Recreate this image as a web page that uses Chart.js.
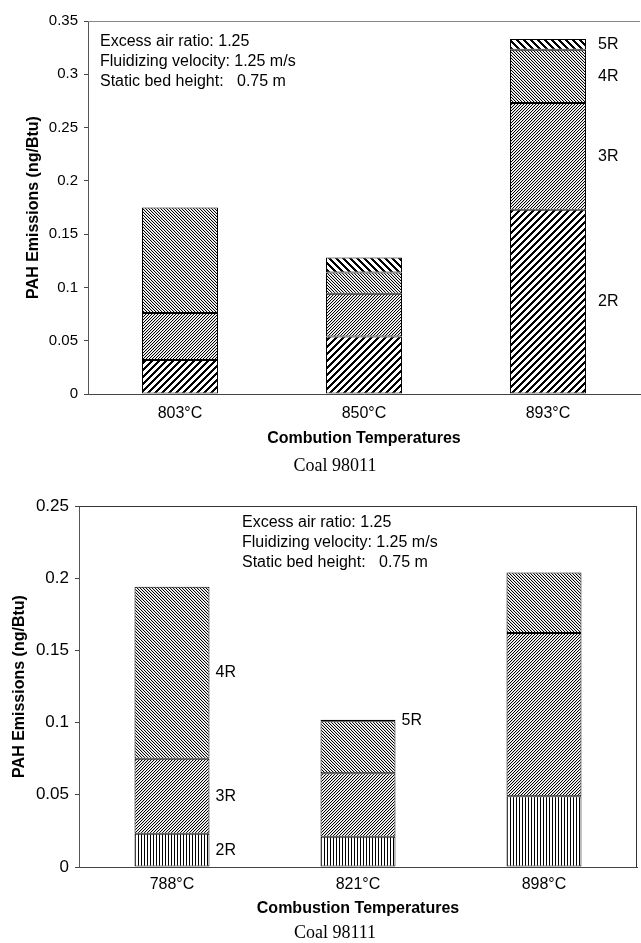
<!DOCTYPE html>
<html lang="en">
<head>
<meta charset="UTF-8" />
<title>PAH Emissions vs Combustion Temperature</title>
<style>
  body { margin: 0; background: #fff; }
  canvas { display: block; }
</style>
</head>
<body>
<canvas id="coal98011" width="641" height="475"></canvas>
<canvas id="coal98111" width="641" height="468"></canvas>

<script src="https://cdn.jsdelivr.net/npm/chart.js"></script>
<script>
// ring-number groups, stacked bottom to top
const ringNames = ["2R", "3R", "4R", "5R"];

// Coal 98011
const temps98011 = ["803°C", "850°C", "893°C"];
const ring2_98011 = [0.032, 0.054, 0.173];
const ring3_98011 = [0.044, 0.040, 0.100];
const ring4_98011 = [0.099, 0.020, 0.050];
const ring5_98011 = [null, 0.014, 0.010];
const ticks98011 = [0, 0.05, 0.1, 0.15, 0.2, 0.25, 0.3, 0.35];
// which bar carries each ring label
const labelBar98011 = [2, 2, 2, 2];

// Coal 98111
const temps98111 = ["788°C", "821°C", "898°C"];
const ring2_98111 = [0.023, 0.021, 0.049];
const ring3_98111 = [0.052, 0.044, 0.113];
const ring4_98111 = [0.119, 0.036, 0.042];
const ring5_98111 = [null, 0.001, null];
const ticks98111 = [0, 0.05, 0.1, 0.15, 0.2, 0.25];
const labelBar98111 = [0, 0, 0, 1];

const conditions = [
  "Excess air ratio: 1.25",
  "Fluidizing velocity: 1.25 m/s",
  "Static bed height:   0.75 m",
];

const SANS = "'Liberation Sans', Arial, sans-serif";

// pixel hatch fills; shade(x, y) returns a grey level
function hatch(ctx, period, shade) {
  const c = document.createElement("canvas");
  c.width = c.height = period;
  const g = c.getContext("2d");
  const img = g.createImageData(period, period);
  for (let y = 0; y < period; y++) {
    for (let x = 0; x < period; x++) {
      const i = (y * period + x) * 4;
      const v = shade(x, y);
      img.data[i] = img.data[i + 1] = img.data[i + 2] = v;
      img.data[i + 3] = 255;
    }
  }
  g.putImageData(img, 0, 0);
  return ctx.createPattern(c, "repeat");
}

const mod = (a, n) => ((a % n) + n) % n;
const wideUp = (ctx) => hatch(ctx, 7, (x, y) => (mod(x + y, 7) < 3 ? 0 : 255));
const wideDown = (ctx) => hatch(ctx, 7, (x, y) => (mod(x - y, 7) < 3 ? 0 : 255));
const denseUp = (ctx) => hatch(ctx, 3, (x, y) => (mod(x + y, 3) === 0 ? 0 : mod(x + y, 3) === 1 ? 215 : 255));
const denseDown = (ctx) => hatch(ctx, 3, (x, y) => (mod(x - y, 3) === 0 ? 0 : mod(x - y, 3) === 1 ? 215 : 255));
const vertical = (ctx) => hatch(ctx, 3, (x) => (x === 0 ? 0 : 255));

// text beside the chosen bar segments
const segmentLabels = {
  id: "segmentLabels",
  afterDatasetsDraw(chart, args, opts) {
    const ctx = chart.ctx;
    ctx.save();
    ctx.font = opts.font;
    ctx.fillStyle = "#000";
    ctx.textBaseline = "middle";
    opts.bars.forEach((bar, ds) => {
      const el = chart.getDatasetMeta(ds).data[bar];
      const v = chart.data.datasets[ds].data[bar];
      if (!el || v == null) return;
      const p = el.getProps(["x", "y", "base", "width"], true);
      ctx.fillText(chart.data.datasets[ds].label, p.x + p.width / 2 + opts.gap, (p.y + p.base) / 2);
    });
    ctx.restore();
  },
};

// operating conditions block inside the plot
const notes = {
  id: "notes",
  afterDraw(chart, args, opts) {
    const ctx = chart.ctx;
    const a = chart.chartArea;
    ctx.save();
    ctx.font = opts.font;
    ctx.fillStyle = "#000";
    ctx.textBaseline = "alphabetic";
    opts.lines.forEach((t, i) => ctx.fillText(t, a.left + opts.dx, a.top + opts.dy + i * opts.step));
    ctx.restore();
  },
};

// plot frame lines (top, optionally right)
const frame = {
  id: "frame",
  beforeDatasetsDraw(chart, args, opts) {
    const ctx = chart.ctx;
    const a = chart.chartArea;
    ctx.save();
    ctx.strokeStyle = opts.color;
    ctx.lineWidth = 1;
    ctx.beginPath();
    ctx.moveTo(a.left, a.top + 0.5);
    ctx.lineTo(a.right, a.top + 0.5);
    if (opts.right) {
      ctx.moveTo(a.right - 0.5, a.top);
      ctx.lineTo(a.right - 0.5, a.bottom);
    }
    ctx.stroke();
    ctx.restore();
  },
};

// serif caption under the axis title
const caption = {
  id: "caption",
  afterDraw(chart, args, opts) {
    const ctx = chart.ctx;
    ctx.save();
    ctx.font = "18px 'Liberation Serif', 'Times New Roman', serif";
    ctx.fillStyle = "#000";
    ctx.textAlign = "center";
    ctx.textBaseline = "middle";
    ctx.fillText(opts.text, opts.x, chart.height - opts.fromBottom);
    ctx.restore();
  },
};

function makeChart(id, cfg) {
  const canvas = document.getElementById(id);
  const ctx = canvas.getContext("2d");
  const fills = cfg.fills.map((f) => f(ctx));
  const series = [cfg.r2, cfg.r3, cfg.r4, cfg.r5];
  return new Chart(canvas, {
    type: "bar",
    data: {
      labels: cfg.labels,
      datasets: series.map((d, i) => ({
        label: ringNames[i],
        data: d,
        backgroundColor: fills[i],
        borderColor: "#000",
        borderWidth: 1,
        borderSkipped: false,
        categoryPercentage: 1,
        barPercentage: cfg.barPct,
      })),
    },
    plugins: [segmentLabels, notes, frame, caption],
    options: {
      responsive: false,
      animation: false,
      layout: { padding: cfg.padding },
      plugins: {
        legend: { display: false },
        tooltip: { enabled: false },
        segmentLabels: { bars: cfg.labelBars, gap: cfg.labelGap, font: "16px " + SANS },
        notes: { lines: conditions, font: "16px " + SANS, dx: cfg.notesX, dy: cfg.notesY, step: 20 },
        frame: { color: cfg.frameColor, right: cfg.frameRight },
        caption: { text: cfg.caption, x: cfg.captionX, fromBottom: cfg.captionBottom },
      },
      scales: {
        x: {
          stacked: true,
          afterFit: (s) => { s.height = cfg.xHeight; },
          grid: { display: true, drawOnChartArea: false, drawTicks: false },
          border: { display: true, color: "#444", width: 1 },
          ticks: { color: "#000", padding: cfg.xTickPad, font: { family: SANS, size: 16 } },
          title: {
            display: true,
            text: cfg.xTitle,
            color: "#000",
            padding: { top: 0, bottom: 0 },
            font: { family: SANS, size: 16, weight: "bold" },
          },
        },
        y: {
          stacked: true,
          min: 0,
          max: cfg.ticks[cfg.ticks.length - 1],
          afterFit: (s) => { s.width = cfg.yWidth; },
          afterBuildTicks: (s) => { s.ticks = cfg.ticks.map((v) => ({ value: v })); },
          grid: { display: true, drawOnChartArea: false, drawTicks: true, tickLength: 4, color: "#444" },
          border: { display: true, color: "#555", width: 1 },
          ticks: {
            color: "#000",
            padding: 6,
            font: { family: SANS, size: cfg.yTickSize },
            callback: (v) => String(Number(v.toFixed(2))),
          },
          title: {
            display: true,
            text: "PAH Emissions (ng/Btu)",
            color: "#000",
            padding: { top: cfg.yTitlePad, bottom: 0 },
            font: { family: SANS, size: 16, weight: "bold" },
          },
        },
      },
    },
  });
}

makeChart("coal98011", {
  labels: temps98011,
  r2: ring2_98011, r3: ring3_98011, r4: ring4_98011, r5: ring5_98011,
  ticks: ticks98011,
  fills: [wideUp, denseUp, denseDown, wideDown],
  labelBars: labelBar98011,
  labelGap: 12,
  barPct: 0.413,
  padding: { top: 21, right: 1, bottom: 27, left: 0 },
  xHeight: 54,
  xTickPad: 10,
  yWidth: 88,
  yTickSize: 15,
  yTitlePad: 24,
  xTitle: "Combution Temperatures",
  notesX: 12, notesY: 25,
  frameColor: "#888", frameRight: false,
  caption: "Coal 98011", captionX: 335, captionBottom: 9,
});

makeChart("coal98111", {
  labels: temps98111,
  r2: ring2_98111, r3: ring3_98111, r4: ring4_98111, r5: ring5_98111,
  ticks: ticks98111,
  fills: [vertical, denseUp, denseDown, wideDown],
  labelBars: labelBar98111,
  labelGap: 6,
  barPct: 0.403,
  padding: { top: 31, right: 4, bottom: 25, left: 0 },
  xHeight: 51,
  xTickPad: 8,
  yWidth: 79,
  yTickSize: 17,
  yTitlePad: 10,
  xTitle: "Combustion Temperatures",
  notesX: 163, notesY: 21,
  frameColor: "#333", frameRight: true,
  caption: "Coal 98111", captionX: 335, captionBottom: 10,
});
</script>
</body>
</html>
